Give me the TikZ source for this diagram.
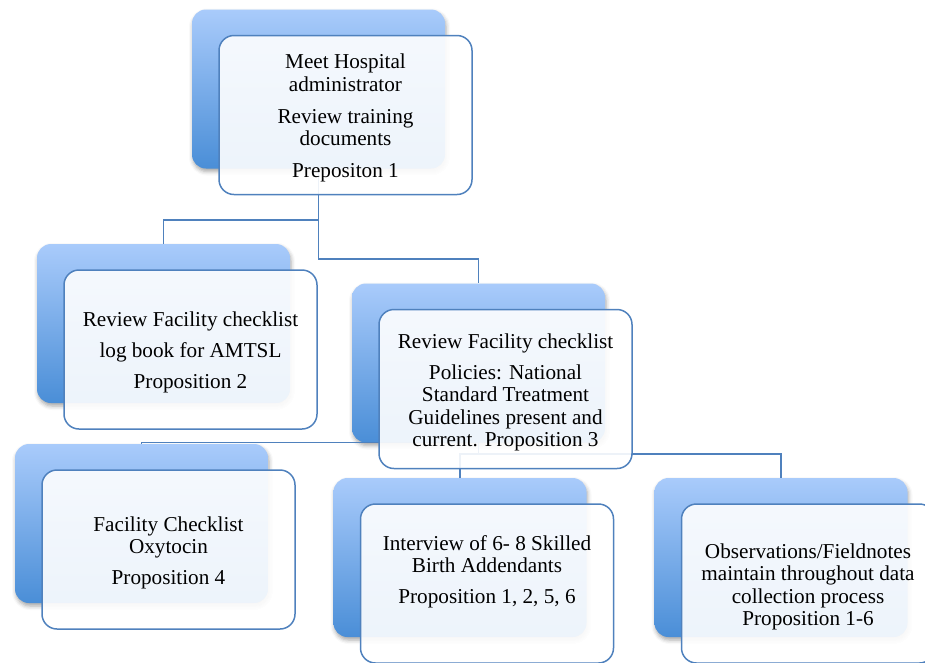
\documentclass[tikz,border=0pt]{standalone}
\usepackage{fontspec}
\setmainfont{Liberation Serif}
\usepackage{xcolor}
\usetikzlibrary{shadows.blur}

\definecolor{boxtop}{RGB}{169,203,251}
\definecolor{boxbot}{RGB}{74,142,215}
\definecolor{edge}{RGB}{79,129,189}
\newcommand{\toprule}{\rule{0pt}{21pt}}

\begin{document}
\begin{tikzpicture}[x=1pt,y=-1pt,
  back/.style={rectangle,rounded corners=14pt,minimum width=253pt,minimum height=159pt,
    top color=boxtop,bottom color=boxbot,
    blur shadow={shadow xshift=1pt,shadow yshift=-3pt,shadow opacity=35,shadow blur radius=4pt}},
  front/.style={rectangle,rounded corners=15pt,minimum width=253pt,minimum height=159pt,
    draw=edge,line width=1.5pt,fill=white,fill opacity=0.9,text opacity=1,
    align=center,inner sep=0pt,font=\fontsize{21.2}{22.5}\selectfont},
  link/.style={draw=edge,line width=1.5pt}]
\useasboundingbox (0,0) rectangle (925,662);
\clip (0,0) rectangle (925,662);

% back boxes (only coordinates for the links first)
\coordinate (J1) at (318.5,220);
\coordinate (J2) at (318.5,259);
\coordinate (J3) at (478.5,454);

\path (318.5,89) node[back] (P1) {}
  (163.5,323.5) node[back] (P2) {}
  (478.5,363) node[back] (P3) {}
  (141.5,523.5) node[back] (P4) {}
  (460,557.5) node[back] (P5) {}
  (781,557.5) node[back] (P6) {};

% links sit behind the front boxes
\draw[link]
  (P1.south)--(J2)-|(P3.north)
  (J1)-|(P2.north)
  (P3.south)-|(P4.north)
  (P3.south)--(J3)-|(P5.north)
  (J3)-|(P6.north);

% front boxes
\node[front] (P1') at (345.5,115)
  {\toprule Meet Hospital\\administrator\\[9.5pt]Review training\\documents\\[9.5pt]Prepositon 1};
\node[front] (P2') at (190.5,349.5)
  {\toprule Review Facility checklist\\[8.5pt]log book for AMTSL\\[8.5pt]Proposition 2};
\node[front] (P3') at (505.5,389)
  {\toprule Review Facility checklist\\[8.5pt]Policies: National\\Standard Treatment\\Guidelines present and\\current. Proposition 3};
\node[front] (P4') at (168.5,549.5)
  {\toprule Facility Checklist\\Oxytocin\\[8.5pt]Proposition 4};
\node[front] (P5') at (487,583.5)
  {\toprule Interview of 6- 8 Skilled\\Birth Addendants\\[8.5pt]Proposition 1, 2, 5, 6\\[4.5pt]\strut};
\node[front] (P6') at (808,583.5)
  {\toprule Observations/Fieldnotes\\maintain throughout data\\collection process\\Proposition 1-6};
\end{tikzpicture}
\end{document}
